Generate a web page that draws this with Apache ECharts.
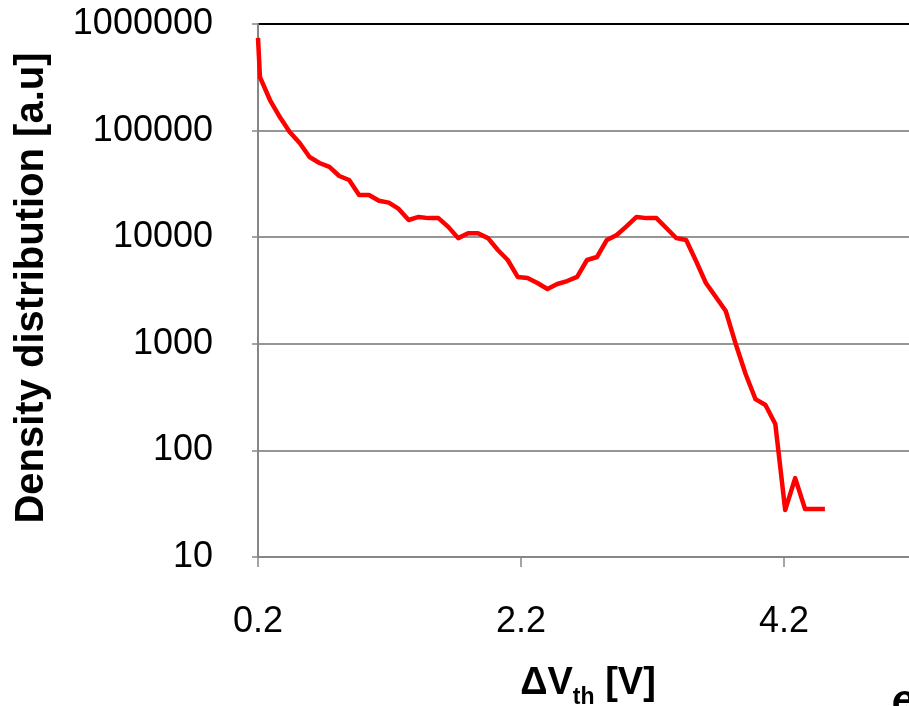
<!DOCTYPE html>
<html>
<head>
<meta charset="utf-8">
<script src="https://cdn.jsdelivr.net/npm/echarts@6/dist/echarts.min.js"></script>
<style>
html,body{margin:0;padding:0;background:#fff;}
#chart{width:909px;height:706px;}
</style>
</head>
<body>
<div id="chart"></div>
<script>
const xValues = [0.2, 0.215, 0.291, 0.366, 0.441, 0.517, 0.592, 0.667, 0.743, 0.818, 0.893,
  0.969, 1.044, 1.120, 1.195, 1.270, 1.346, 1.421, 1.496, 1.572, 1.647,
  1.722, 1.798, 1.873, 1.949, 2.024, 2.099, 2.175, 2.250, 2.325, 2.401,
  2.476, 2.551, 2.627, 2.702, 2.778, 2.853, 2.928, 3.004, 3.079, 3.154,
  3.230, 3.305, 3.380, 3.456, 3.531, 3.606, 3.682, 3.757, 3.833, 3.908,
  3.983, 4.059, 4.134, 4.209, 4.285, 4.360, 4.435, 4.511];
const densityValues = [740000, 318000, 193600, 134000, 97000, 76500, 56500, 49700, 45600, 37500, 34400,
  24900, 24900, 22000, 21100, 18400, 14500, 15500, 15100, 15100, 12500,
  9800, 10900, 10900, 9800, 7590, 6110, 4240, 4140, 3720, 3270,
  3640, 3880, 4240, 6110, 6520, 9420, 10500, 12700, 15500, 15100,
  15100, 12200, 9830, 9420, 5980, 3720, 2750, 2030, 995, 521,
  303, 267, 177, 27.6, 55, 28.2, 28.2, 28.2];
const xTickLabels = ['0.2', '2.2', '4.2', '6.2'];
const yTickLabels = ['10', '100', '1000', '10000', '100000', '1000000'];
const yAxisTitle = 'Density distribution [a.u]';

const FONT = "'Liberation Sans', Arial, sans-serif";
const chart = echarts.init(document.getElementById('chart'), null, {renderer: 'canvas'});
const data = xValues.map((x, i) => [x, densityValues[i]]);

chart.setOption({
  animation: false,
  backgroundColor: '#ffffff',
  grid: {left: 258, top: 24, width: 789, height: 533, containLabel: false, outerBoundsMode: 'none'},
  xAxis: {
    type: 'value', min: 0.2, max: 6.2, interval: 2,
    axisLine: {show: true, onZero: false, lineStyle: {color: '#868686', width: 2}},
    axisTick: {show: true, inside: false, length: 10, lineStyle: {color: '#868686', width: 1.5}},
    splitLine: {show: false},
    axisLabel: {
      margin: 47, color: '#000', fontSize: 36, fontFamily: FONT,
      formatter: v => { const i = Math.round((v - 0.2) / 2); return xTickLabels[i] || ''; }
    }
  },
  yAxis: {
    type: 'log', logBase: 10, min: 10, max: 1000000,
    axisLine: {show: true, lineStyle: {color: '#868686', width: 2}},
    axisTick: {show: true, inside: false, length: 6, lineStyle: {color: '#868686', width: 1.5}},
    splitLine: {show: true, lineStyle: {color: ['#969696', '#969696', '#969696', '#969696', '#969696', '#000000'], width: 2}},
    minorTick: {show: false},
    axisLabel: {
      margin: 45, color: '#000', fontSize: 36, fontFamily: FONT,
      formatter: v => { const i = Math.round(Math.log10(v)) - 1; return yTickLabels[i] || ''; }
    }
  },
  series: [{
    type: 'line',
    data: data,
    showSymbol: false,
    symbol: 'none',
    lineStyle: {color: '#ff0000', width: 4.5, join: 'round'},
    clip: true
  }],
  graphic: [
    {
      type: 'text', x: 32, y: 288, rotation: Math.PI / 2,
      style: {text: yAxisTitle, font: "bold 40px " + FONT, fill: '#000', align: 'center', verticalAlign: 'middle'}
    },
    {
      type: 'text', x: 588, y: 684,
      style: {
        text: '{a|ΔV}{b|th}{a| [V]}',
        align: 'center', verticalAlign: 'middle',
        rich: {
          a: {font: "bold 38px " + FONT, fill: '#000', verticalAlign: 'bottom'},
          b: {font: "bold 23px " + FONT, fill: '#000', verticalAlign: 'bottom', padding: [0, 0, -6, 0]}
        }
      }
    },
    {
      type: 'text', x: 892, y: 722,
      style: {text: 'e', font: "italic bold 40px " + FONT, fill: '#000', align: 'left', verticalAlign: 'bottom'}
    }
  ]
});
</script>
</body>
</html>
